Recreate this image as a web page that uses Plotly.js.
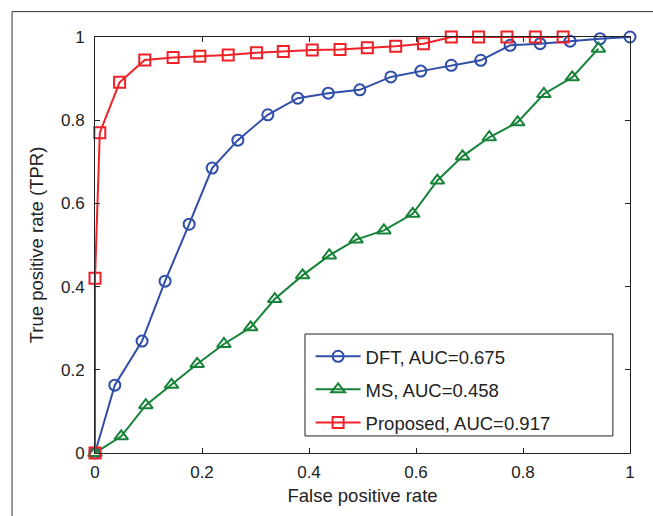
<!DOCTYPE html>
<html>
<head>
<meta charset="utf-8">
<script src="https://cdn.plot.ly/plotly-3.0.1.min.js"></script>
<style>html,body{margin:0;padding:0;background:#fff;}#chart{width:653px;height:516px;}</style>
</head>
<body>
<div id="chart"></div>
<script>
// ---- Data ----
const seriesNames = ["DFT, AUC=0.675", "MS, AUC=0.458", "Proposed, AUC=0.917"];

const dftX = [0, 0.037, 0.088, 0.131, 0.176, 0.219, 0.267, 0.323, 0.379, 0.436, 0.495, 0.553, 0.609, 0.666, 0.721, 0.776, 0.832, 0.888, 0.944, 1.0];
const dftY = [0, 0.163, 0.269, 0.413, 0.550, 0.685, 0.752, 0.813, 0.853, 0.865, 0.873, 0.904, 0.918, 0.932, 0.944, 0.980, 0.984, 0.990, 0.996, 1.0];

const msX = [0, 0.049, 0.095, 0.143, 0.191, 0.241, 0.291, 0.336, 0.388, 0.438, 0.488, 0.540, 0.594, 0.640, 0.687, 0.737, 0.790, 0.839, 0.892, 0.941];
const msY = [0, 0.040, 0.115, 0.164, 0.214, 0.262, 0.302, 0.370, 0.427, 0.475, 0.513, 0.535, 0.575, 0.655, 0.713, 0.759, 0.795, 0.863, 0.903, 0.972];

const propX = [0, 0, 0.009, 0.046, 0.093, 0.146, 0.196, 0.249, 0.302, 0.352, 0.406, 0.458, 0.509, 0.562, 0.614, 0.666, 0.717, 0.770, 0.823, 0.875];
const propY = [0, 0.420, 0.770, 0.891, 0.945, 0.951, 0.954, 0.957, 0.962, 0.965, 0.969, 0.970, 0.974, 0.978, 0.984, 1.0, 1.0, 1.0, 1.0, 1.0];

const tickVals = [0, 0.2, 0.4, 0.6, 0.8, 1];
const tickText = ["0", "0.2", "0.4", "0.6", "0.8", "1"];

const xTitle = "False positive rate";
const yTitle = "True positive rate (TPR)";

// ---- Styles ----
const colors = ["#2f4ea8", "#168238", "#ee2127"];
const symbols = ["circle-open", "triangle-up-open", "square-open"];
const FONT = "Liberation Sans, Arial, Helvetica, sans-serif";

function mk(x, y, i) {
  return {
    x: x, y: y, name: seriesNames[i], type: "scatter", mode: "lines+markers",
    cliponaxis: false, legendgroup: "g" + i,
    line: {color: colors[i], width: 2},
    marker: {symbol: symbols[i], size: i === 1 ? 12 : 11, color: colors[i], line: {width: 2, color: colors[i]}}
  };
}

const data = [mk(dftX, dftY, 0), mk(msX, msY, 1), mk(propX, propY, 2)];

const axisCommon = {
  range: [0, 1], tickvals: tickVals, ticktext: tickText,
  showgrid: false, zeroline: false, showline: true, linecolor: "#222", linewidth: 1,
  mirror: "ticks", ticks: "inside", ticklen: 5, tickcolor: "#222", tickwidth: 1,
  tickfont: {family: FONT, size: 17, color: "#222"}, fixedrange: true
};

const layout = {
  width: 653, height: 516,
  margin: {l: 95, r: 23, t: 37, b: 63, pad: 0},
  paper_bgcolor: "#fff", plot_bgcolor: "#fff",
  font: {family: FONT, color: "#222"},
  xaxis: Object.assign({}, axisCommon, {
    title: {text: xTitle, font: {family: FONT, size: 18.5, color: "#222"}, standoff: 7},
    ticklabelstandoff: 4
  }),
  yaxis: Object.assign({}, axisCommon, {
    title: {text: yTitle, font: {family: FONT, size: 18.5, color: "#222"}, standoff: 12},
    ticklabelstandoff: 6
  }),
  showlegend: true,
  legend: {
    x: 0.403, y: 0.277, xanchor: "left", yanchor: "top",
    bgcolor: "rgba(0,0,0,0)", borderwidth: 0,
    font: {family: FONT, size: 18.5, color: "#222"},
    traceorder: "grouped", tracegroupgap: 6,
    itemwidth: 45
  },
  shapes: [
    // legend box
    {type: "rect", xref: "paper", yref: "paper", x0: 0.3925, x1: 0.968, y0: 0.041, y1: 0.286,
     line: {color: "#222", width: 1}, fillcolor: "rgba(0,0,0,0)"},
    // outer figure frame (left and top edges)
    {type: "line", xref: "paper", yref: "paper", x0: -0.155, x1: -0.155, y0: 1.061, y1: -0.16,
     line: {color: "#333", width: 1}},
    {type: "line", xref: "paper", yref: "paper", x0: -0.155, x1: 1.05, y0: 1.061, y1: 1.061,
     line: {color: "#333", width: 1}}
  ]
};

Plotly.newPlot("chart", data, layout, {displayModeBar: false, staticPlot: true});
</script>
</body>
</html>
